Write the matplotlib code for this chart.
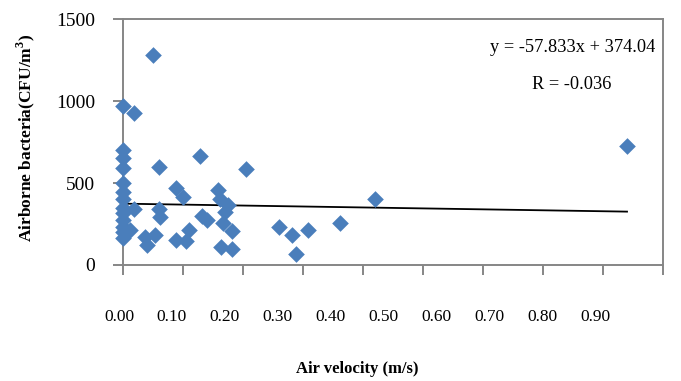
import matplotlib
matplotlib.use("Agg")
import matplotlib.pyplot as plt

plt.rcParams['font.family'] = ['Liberation Serif', 'DejaVu Serif']
plt.rcParams['mathtext.fontset'] = 'custom'
plt.rcParams['mathtext.rm'] = 'Liberation Serif:bold'
plt.rcParams['mathtext.bf'] = 'Liberation Serif:bold'

# air velocity (m/s) and airborne bacteria (CFU/m3)
velocity = [0.0, 0.0, 0.0, 0.0, 0.0, 0.0, 0.0, 0.0, 0.0, 0.0, 0.0, 0.0, 0.0,
            0.018, 0.019, 0.012, 0.036, 0.053, 0.040, 0.050,
            0.060, 0.060, 0.062,
            0.089, 0.100, 0.089, 0.105, 0.110,
            0.128, 0.132, 0.140,
            0.158, 0.161, 0.175, 0.170, 0.167, 0.164, 0.182, 0.182,
            0.205, 0.260, 0.282, 0.289, 0.309, 0.362, 0.420, 0.840]
bacteria = [970, 700, 650, 590, 500, 445, 405, 346, 315, 274, 234, 203, 163,
            927, 340, 213, 173, 183, 122, 1280,
            600, 340, 295,
            467, 415, 155, 145, 215,
            665, 300, 275,
            460, 400, 365, 325, 258, 112, 210, 95,
            585, 234, 180, 69, 213, 258, 400, 728]

slope = -57.833
intercept = 374.04
r_value = -0.036

x_ticks = [0.0, 0.1, 0.2, 0.3, 0.4, 0.5, 0.6, 0.7, 0.8, 0.9]
x_labels = ['0.00', '0.10', '0.20', '0.30', '0.40', '0.50', '0.60', '0.70', '0.80', '0.90']
y_ticks = [0, 500, 1000, 1500]

fig = plt.figure(figsize=(6.81, 3.81), dpi=100)
ax = fig.add_axes([0.1806, 0.3045, 0.7930, 0.6455])

ax.scatter(velocity, bacteria, marker='D', s=72, color='#4A7EBB', zorder=3,
           linewidths=0, clip_on=False)

# linear trendline
x_line = [0.0, max(velocity)]
y_line = [slope * v + intercept for v in x_line]
ax.plot(x_line, y_line, color='black', lw=1.3, zorder=2)

ax.set_xlim(0, 0.9)
ax.set_ylim(0, 1500)
ax.set_xticks(x_ticks)
ax.set_xticklabels([])
ax.set_yticks(y_ticks)
ax.set_yticklabels([str(v) for v in y_ticks], fontsize=14)

for side in ['left', 'bottom', 'top', 'right']:
    ax.spines[side].set_color('#868686')
    ax.spines[side].set_linewidth(1.4)
ax.tick_params(axis='both', direction='out', length=7, width=1.4,
               color='#868686', pad=13)
ax.tick_params(axis='x', pad=0)

# x tick labels sit a bit off the tick marks in the original
for i, lab in enumerate(x_labels):
    fig.text((119 + i * 52.9) / 681, 1 - 317 / 381, lab, ha='center',
             va='center', fontsize=12.5)

ax.text(0.985, 0.885, 'y = -57.833x + 374.04', transform=ax.transAxes,
        ha='right', va='center', fontsize=13.2)
ax.text(0.83, 0.735, f'R = {r_value}', transform=ax.transAxes,
        ha='center', va='center', fontsize=13.2)

fig.text(357 / 681, 1 - 369 / 381, 'Air velocity (m/s)', ha='center',
         va='center', fontsize=12, fontweight='bold')
fig.text(26 / 681, 1 - 138 / 381, 'Airborne bacteria(CFU/m$^{3}$)',
         ha='center', va='center', rotation=90, fontsize=12.5,
         fontweight='bold')

fig.savefig('out.png', dpi=100)
